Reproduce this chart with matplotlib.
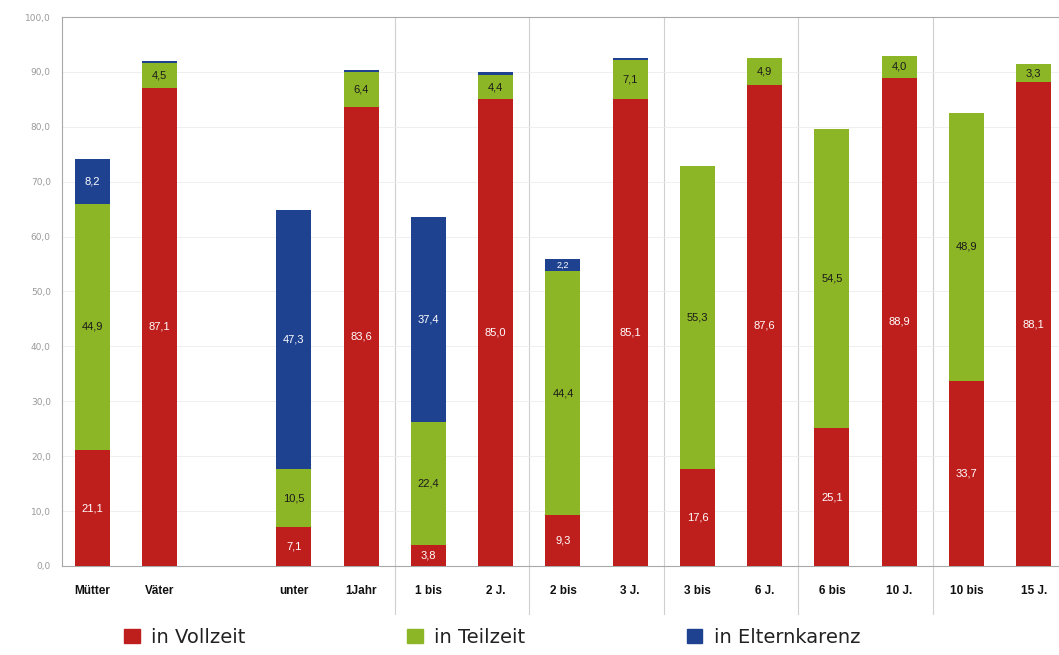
import matplotlib
matplotlib.use("Agg")
import matplotlib.pyplot as plt
from matplotlib.patches import Patch

# categories (Mütter / Väter pairs by age of youngest child)
labels = ["Mütter", "Väter", "unter", "1Jahr", "1 bis", "2 J.", "2 bis", "3 J.",
          "3 bis", "6 J.", "6 bis", "10 J.", "10 bis", "15 J."]
positions = [0, 1, 3, 4, 5, 6, 7, 8, 9, 10, 11, 12, 13, 14]

vollzeit = [21.1, 87.1, 7.1, 83.6, 3.8, 85.0, 9.3, 85.1, 17.6, 87.6, 25.1, 88.9, 33.7, 88.1]
teilzeit = [44.9, 4.5, 10.5, 6.4, 22.4, 4.4, 44.4, 7.1, 55.3, 4.9, 54.5, 4.0, 48.9, 3.3]
karenz = [8.2, 0.4, 47.3, 0.4, 37.4, 0.6, 2.2, 0.4, 0, 0, 0, 0, 0, 0]

# only these are printed as labels
show_karenz = [True, False, True, False, True, False, True, False,
               False, False, False, False, False, False]

red = '#BE1E1C'
green = '#8DB627'
blue = '#1E4190'

fig = plt.figure(figsize=(10.59, 6.55), dpi=100)
ax = fig.add_axes([0.0585, 0.136, 0.943, 0.838])

width = 0.52
ax.bar(positions, vollzeit, width, color=red, zorder=3)
ax.bar(positions, teilzeit, width, bottom=vollzeit, color=green, zorder=3)
bottom2 = [v + t for v, t in zip(vollzeit, teilzeit)]
ax.bar(positions, karenz, width, bottom=bottom2, color=blue, zorder=3)


def fmt(v):
    return ("%.1f" % v).replace(".", ",")


for i, x in enumerate(positions):
    ax.text(x, vollzeit[i] / 2, fmt(vollzeit[i]), ha='center', va='center',
            color='white', fontsize=8, family='Liberation Sans', zorder=4)
    ax.text(x, vollzeit[i] + teilzeit[i] / 2, fmt(teilzeit[i]), ha='center', va='center',
            color='#1a1a1a', fontsize=8, family='Liberation Sans', zorder=4)
    if show_karenz[i]:
        ax.text(x, bottom2[i] + karenz[i] / 2, fmt(karenz[i]), ha='center', va='center',
                color='white', fontsize=8 if karenz[i] > 3 else 6.5,
                family='Liberation Sans', zorder=4)

ax.set_ylim(0, 100)
ax.set_xlim(-0.45, 14.4)
ax.set_yticks(range(0, 101, 10))
ax.set_yticklabels([fmt(v) for v in range(0, 101, 10)], fontsize=6.5, color='#9a9a9a')
ax.set_xticks(positions)
ax.set_xticklabels(labels, fontsize=8.5, fontweight='bold', family='Liberation Sans',
                   color='#111111')
ax.tick_params(axis='both', length=0)
ax.tick_params(axis='x', pad=14)
ax.tick_params(axis='y', pad=8)

ax.grid(axis='y', color='#ececec', linewidth=0.6, zorder=0)
for side in ['left', 'top', 'bottom']:
    ax.spines[side].set_color('#a8a8a8')
    ax.spines[side].set_linewidth(0.8)
ax.spines['right'].set_visible(False)

# group separators reaching down through the tick labels
for sx in [4.5, 6.5, 8.5, 10.5, 12.5]:
    ax.plot([sx, sx], [-8.8, 100], color='#cfcfcf', linewidth=0.8, clip_on=False, zorder=1)

handles = [Patch(color=red), Patch(color=green), Patch(color=blue)]
fig.legend(handles, ["in Vollzeit", "in Teilzeit", "in Elternkarenz"], loc='center',
           bbox_to_anchor=(0.465, 0.027), ncol=3, frameon=False, fontsize=14,
           handlelength=0.8, handleheight=0.8, handletextpad=0.6, columnspacing=8.3,
           labelcolor='#222222')

fig.savefig("out.png", dpi=100)
